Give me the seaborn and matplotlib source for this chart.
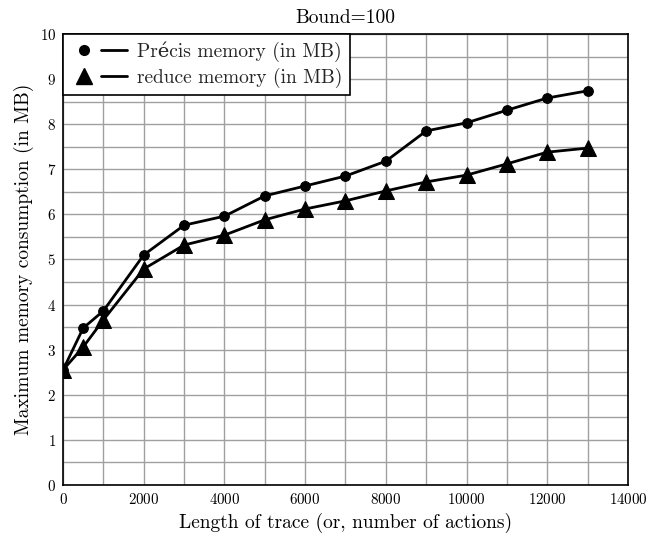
import matplotlib
matplotlib.use("Agg")
import matplotlib.pyplot as plt
import seaborn as sns
import pandas as pd
from matplotlib.ticker import MultipleLocator
from matplotlib.lines import Line2D
from matplotlib.legend_handler import HandlerTuple

sns.set_theme(style="whitegrid")
plt.rcParams['font.family'] = ['cmr10', 'DejaVu Serif']
plt.rcParams['mathtext.fontset'] = 'cm'
plt.rcParams['axes.formatter.use_mathtext'] = True

trace_len = [0, 500, 1000, 2000, 3000, 4000, 5000, 6000, 7000, 8000, 9000, 10000, 11000, 12000, 13000]
precis_mem = [2.55, 3.48, 3.86, 5.10, 5.76, 5.96, 6.41, 6.63, 6.85, 7.18, 7.85, 8.03, 8.31, 8.58, 8.74]
reduce_mem = [2.55, 3.06, 3.66, 4.79, 5.32, 5.54, 5.88, 6.12, 6.30, 6.52, 6.72, 6.87, 7.12, 7.38, 7.47]
x_ticks = [0, 2000, 4000, 6000, 8000, 10000, 12000, 14000]
y_ticks = [0, 1, 2, 3, 4, 5, 6, 7, 8, 9, 10]
labels = ["Précis memory (in MB)", "reduce memory (in MB)"]

df = pd.DataFrame({"x": trace_len, "precis": precis_mem, "reduce": reduce_mem})

fig = plt.figure(figsize=(6.47, 5.42), dpi=100)
ax = fig.add_axes([0.0974, 0.1052, 0.8732, 0.8321])

sns.lineplot(data=df, x="x", y="precis", ax=ax, color="black", marker="o", markersize=7,
             linewidth=2, markeredgecolor="black", legend=False)
sns.lineplot(data=df, x="x", y="reduce", ax=ax, color="black", marker="^", markersize=11,
             linewidth=2, markeredgecolor="black", legend=False)

ax.set_xlim(0, 14000)
ax.set_ylim(0, 10)
ax.set_xticks(x_ticks)
ax.set_yticks(y_ticks)
ax.xaxis.set_minor_locator(MultipleLocator(1000))
ax.yaxis.set_minor_locator(MultipleLocator(0.5))
ax.grid(True, which="both", color="#a0a0a0", linewidth=1.0)
ax.tick_params(which="both", length=0, labelsize=10.8, colors="black", pad=5)
for s in ax.spines.values():
    s.set_color("black")
    s.set_linewidth(1.2)
ax.set_facecolor("white")

ax.set_xlabel("Length of trace (or, number of actions)", fontsize=14, color="black")
ax.set_ylabel("Maximum memory consumption (in MB)", fontsize=14, color="black")
ax.set_title("Bound=100", fontsize=14, color="black", pad=8)

h1 = (Line2D([], [], color="black", marker="o", markersize=7, linestyle="none"),
      Line2D([], [], color="black", linewidth=2))
h2 = (Line2D([], [], color="black", marker="^", markersize=11, linestyle="none"),
      Line2D([], [], color="black", linewidth=2))
leg = ax.legend([h1, h2], labels, loc="upper left", fontsize=14, frameon=True, fancybox=False,
                edgecolor="black", borderaxespad=0, handlelength=2.9,
                labelspacing=0.3, borderpad=0.38, handletextpad=0.55, framealpha=1,
                handler_map={tuple: HandlerTuple(ndivide=None, pad=0.2)})
leg.get_frame().set_linewidth(1.2)

fig.savefig("out.png", dpi=100)
